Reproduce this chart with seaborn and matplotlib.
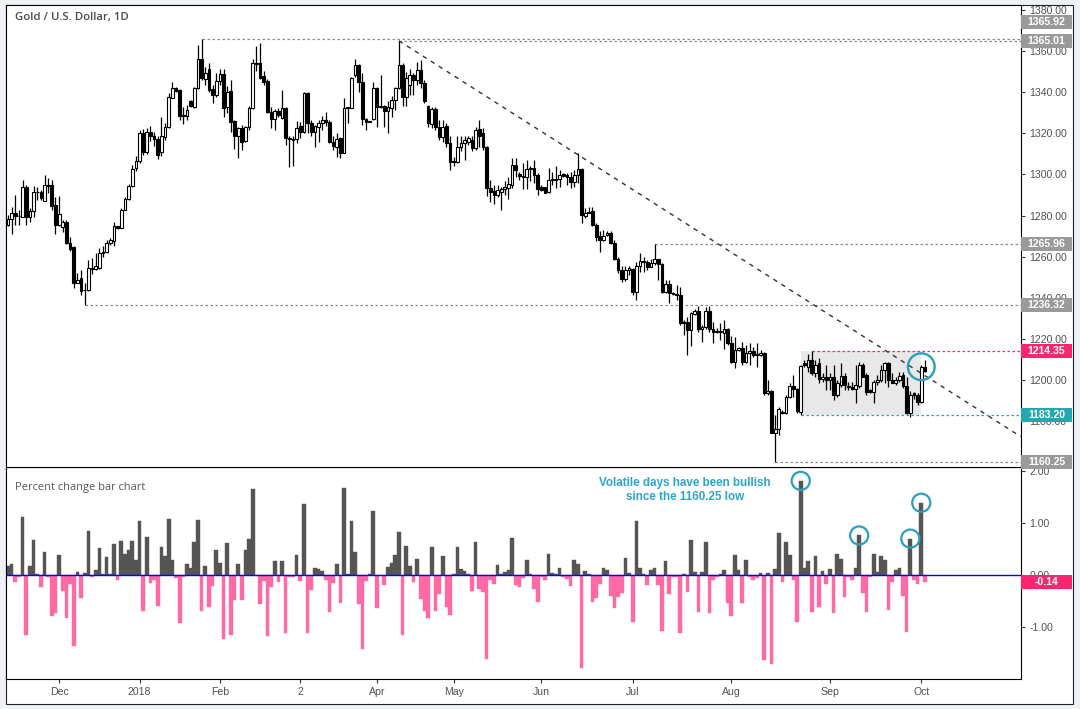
import numpy as np
import pandas as pd
import matplotlib
matplotlib.use("Agg")
import matplotlib.pyplot as plt
import matplotlib.transforms as mtransforms
from matplotlib.patches import Rectangle
import seaborn as sns

# ---------------- data (daily OHLC) ----------------
opens = [
1275.5, 1278.2, 1281.1, 1279.8, 1279.5, 1294.1, 1279.5, 1282.3, 1291.3, 1291.3,
1287.3, 1294.9, 1294.9, 1285.2, 1275.5, 1274.3, 1277.1, 1266.9, 1264.5, 1247.4,
1249.6, 1243.6, 1243.6, 1254.4, 1253.9, 1254.4, 1261.7, 1262.5, 1266.6, 1267.7,
1274.7, 1273.8, 1282.8, 1287.9, 1294.4, 1303.0, 1306.7, 1320.2, 1311.0, 1320.7,
1318.6, 1317.4, 1310.7, 1318.1, 1323.0, 1337.1, 1341.9, 1341.1, 1329.0, 1328.5,
1335.5, 1333.0, 1341.9, 1356.0, 1346.3, 1351.2, 1341.4, 1338.7, 1345.7, 1348.9,
1332.7, 1340.6, 1325.8, 1318.8, 1322.8, 1316.5, 1323.0, 1332.2, 1354.1, 1354.1,
1348.1, 1345.7, 1330.6, 1326.9, 1330.9, 1327.4, 1332.2, 1317.7, 1317.3, 1317.2,
1323.6, 1320.9, 1339.8, 1325.0, 1320.9, 1323.3, 1325.0, 1326.6, 1325.4, 1316.0,
1313.3, 1317.7, 1310.4, 1332.2, 1332.5, 1348.4, 1353.3, 1345.2, 1326.9, 1325.8,
1326.9, 1341.9, 1333.4, 1333.4, 1330.9, 1332.2, 1336.3, 1342.0, 1353.3, 1337.9,
1343.6, 1348.4, 1346.0, 1350.9, 1344.7, 1333.4, 1324.6, 1331.9, 1323.0, 1318.1,
1323.6, 1315.2, 1306.0, 1306.2, 1313.6, 1315.2, 1316.0, 1316.8, 1312.8, 1322.0,
1320.1, 1313.6, 1293.3, 1292.0, 1290.1, 1291.7, 1292.9, 1293.3, 1295.0, 1304.7,
1300.3, 1299.3, 1299.0, 1303.0, 1303.1, 1299.8, 1293.8, 1293.8, 1291.7, 1297.7,
1297.9, 1297.7, 1300.1, 1299.8, 1299.0, 1296.1, 1299.8, 1302.6, 1279.6, 1281.9,
1282.0, 1275.5, 1270.2, 1267.9, 1270.5, 1271.5, 1266.6, 1258.8, 1253.6, 1249.1,
1253.6, 1254.0, 1242.6, 1255.3, 1257.7, 1257.6, 1255.2, 1256.8, 1258.7, 1256.3,
1243.0, 1246.7, 1242.2, 1241.7, 1241.4, 1228.4, 1228.4, 1224.4, 1232.0, 1233.6,
1224.7, 1226.0, 1233.6, 1224.9, 1223.8, 1223.5, 1223.1, 1224.7, 1218.2, 1209.0,
1214.4, 1215.5, 1209.0, 1213.1, 1213.9, 1212.5, 1212.3, 1213.1, 1193.6, 1194.8,
1174.5, 1176.1, 1184.5, 1183.9, 1192.0, 1196.9, 1195.6, 1184.7, 1208.5, 1206.5,
1210.0, 1203.3, 1208.2, 1200.4, 1201.7, 1200.1, 1201.7, 1192.8, 1197.6, 1202.0,
1197.1, 1196.8, 1195.8, 1197.1, 1207.4, 1202.5, 1195.2, 1194.4, 1199.2, 1200.1,
1204.9, 1208.2, 1200.1, 1198.8, 1200.1, 1202.5, 1197.1, 1184.2, 1193.8, 1192.6,
1189.5, 1206.5]

highs = [
1280.3, 1284.1, 1290.1, 1282.8, 1297.3, 1294.9, 1283.6, 1294.4, 1294.1, 1292.5,
1299.8, 1298.1, 1297.3, 1289.2, 1289.6, 1277.9, 1277.9, 1269.8, 1265.0, 1252.3,
1253.6, 1247.1, 1258.5, 1259.3, 1261.7, 1264.1, 1265.0, 1268.2, 1269.0, 1277.1,
1275.0, 1283.6, 1289.2, 1295.4, 1304.5, 1309.0, 1321.5, 1322.0, 1322.5, 1323.5,
1320.5, 1318.5, 1327.9, 1325.0, 1339.8, 1345.2, 1342.4, 1341.4, 1333.0, 1333.9,
1336.3, 1342.7, 1363.0, 1365.92, 1352.5, 1354.1, 1343.6, 1349.2, 1351.2, 1351.2,
1343.1, 1346.0, 1326.3, 1323.3, 1324.1, 1323.6, 1333.4, 1356.0, 1362.5, 1363.8,
1350.1, 1346.3, 1333.0, 1331.7, 1332.2, 1341.1, 1333.0, 1318.8, 1318.5, 1325.8,
1325.3, 1340.3, 1340.3, 1326.3, 1324.1, 1326.6, 1328.5, 1330.6, 1326.6, 1318.5,
1320.1, 1318.1, 1337.1, 1333.0, 1347.6, 1356.0, 1353.8, 1349.2, 1327.4, 1326.0,
1345.2, 1342.7, 1348.4, 1333.9, 1335.5, 1338.2, 1342.7, 1365.01, 1354.1, 1350.0,
1351.2, 1349.5, 1354.9, 1355.7, 1346.0, 1333.9, 1333.0, 1332.7, 1326.6, 1326.6,
1324.9, 1318.8, 1308.5, 1318.5, 1318.5, 1318.8, 1318.8, 1318.5, 1323.3, 1326.6,
1322.5, 1313.9, 1297.4, 1295.0, 1295.0, 1293.8, 1296.6, 1299.0, 1307.9, 1307.9,
1301.4, 1305.5, 1307.1, 1303.9, 1307.1, 1300.6, 1295.0, 1294.1, 1303.1, 1301.4,
1304.2, 1302.2, 1300.9, 1300.6, 1301.4, 1302.2, 1310.3, 1303.1, 1283.6, 1284.4,
1284.4, 1276.3, 1272.3, 1273.1, 1272.3, 1272.3, 1268.2, 1260.1, 1255.3, 1255.3,
1255.3, 1254.4, 1257.2, 1261.7, 1260.1, 1258.4, 1258.7, 1265.96, 1258.9, 1256.8,
1248.7, 1248.7, 1243.0, 1246.3, 1245.5, 1229.3, 1230.9, 1233.3, 1234.4, 1236.1,
1226.8, 1235.7, 1236.1, 1228.4, 1225.2, 1227.6, 1229.3, 1225.2, 1221.2, 1220.8,
1216.3, 1218.7, 1217.1, 1217.9, 1216.3, 1218.2, 1214.7, 1213.5, 1200.1, 1195.2,
1183.1, 1187.1, 1185.5, 1192.8, 1198.5, 1202.5, 1196.0, 1207.4, 1209.8, 1212.5,
1214.35, 1209.8, 1210.6, 1203.3, 1207.4, 1203.3, 1207.4, 1200.1, 1208.5, 1203.3,
1199.2, 1199.2, 1207.4, 1209.0, 1208.2, 1203.3, 1195.5, 1200.1, 1202.5, 1207.4,
1209.0, 1209.0, 1203.3, 1201.7, 1204.1, 1204.1, 1201.7, 1194.5, 1194.0, 1193.5,
1207.4, 1209.8]

lows = [
1275.0, 1271.1, 1275.5, 1275.5, 1279.3, 1275.5, 1277.1, 1279.5, 1287.6, 1287.6,
1287.3, 1291.2, 1282.8, 1271.1, 1274.7, 1272.2, 1266.2, 1262.8, 1244.7, 1247.1,
1241.5, 1236.32, 1243.1, 1251.7, 1253.6, 1253.9, 1260.1, 1262.0, 1265.8, 1265.3,
1273.4, 1273.8, 1282.5, 1287.6, 1294.0, 1301.5, 1305.8, 1309.5, 1310.0, 1316.5,
1314.0, 1307.5, 1309.1, 1316.8, 1322.5, 1337.1, 1340.3, 1326.6, 1324.6, 1326.6,
1332.7, 1332.2, 1341.4, 1346.0, 1343.6, 1340.3, 1335.0, 1337.9, 1343.6, 1327.9,
1329.8, 1320.9, 1312.3, 1307.9, 1312.0, 1316.0, 1321.7, 1332.0, 1350.1, 1346.3,
1343.6, 1329.8, 1322.5, 1321.4, 1327.9, 1326.9, 1314.4, 1303.6, 1303.9, 1315.2,
1317.7, 1320.1, 1320.1, 1318.8, 1313.6, 1316.0, 1321.7, 1323.8, 1315.2, 1312.0,
1308.4, 1307.9, 1310.4, 1325.0, 1332.2, 1347.6, 1340.3, 1324.1, 1321.7, 1325.3,
1326.6, 1323.3, 1332.2, 1323.3, 1320.4, 1327.9, 1331.4, 1341.5, 1333.4, 1333.4,
1338.7, 1338.7, 1343.6, 1342.0, 1335.0, 1323.0, 1322.5, 1321.7, 1316.8, 1316.0,
1313.3, 1302.3, 1303.9, 1305.5, 1311.2, 1307.1, 1314.4, 1311.2, 1312.0, 1313.6,
1312.0, 1289.3, 1286.8, 1285.7, 1289.0, 1282.8, 1290.1, 1288.0, 1293.3, 1299.0,
1297.4, 1292.8, 1292.8, 1296.6, 1295.8, 1290.1, 1292.0, 1291.0, 1290.9, 1295.0,
1293.3, 1293.8, 1299.0, 1295.0, 1293.3, 1294.1, 1295.8, 1276.3, 1278.8, 1281.1,
1274.7, 1267.4, 1262.1, 1267.4, 1270.2, 1266.2, 1258.5, 1252.0, 1247.5, 1248.0,
1251.2, 1241.5, 1239.1, 1252.8, 1252.8, 1253.6, 1255.0, 1256.0, 1248.7, 1242.2,
1242.2, 1237.4, 1241.4, 1239.0, 1226.8, 1222.0, 1212.3, 1216.6, 1231.7, 1223.6,
1218.5, 1224.7, 1223.6, 1218.2, 1222.8, 1219.5, 1215.0, 1217.1, 1208.2, 1205.8,
1213.9, 1207.4, 1208.2, 1207.4, 1211.4, 1206.6, 1211.8, 1192.8, 1192.8, 1174.2,
1160.25, 1173.4, 1183.5, 1183.4, 1191.2, 1192.0, 1184.2, 1183.2, 1206.5, 1204.0,
1202.5, 1201.7, 1198.4, 1199.2, 1195.2, 1195.2, 1190.4, 1192.0, 1196.8, 1195.2,
1195.2, 1195.2, 1188.7, 1196.0, 1201.4, 1192.8, 1193.9, 1188.7, 1197.6, 1199.2,
1198.4, 1196.8, 1198.4, 1197.6, 1199.2, 1196.0, 1183.5, 1181.9, 1191.0, 1188.0,
1189.0, 1203.8]

closes = [
1278.2, 1281.1, 1279.8, 1279.6, 1293.8, 1279.5, 1282.3, 1291.3, 1291.5, 1288.8,
1294.9, 1294.4, 1284.7, 1275.5, 1280.8, 1277.1, 1266.6, 1263.8, 1247.4, 1248.7,
1243.1, 1243.9, 1254.4, 1254.0, 1255.5, 1261.7, 1262.5, 1266.6, 1267.9, 1274.7,
1273.8, 1282.8, 1287.9, 1294.4, 1302.9, 1306.7, 1320.2, 1311.0, 1320.7, 1318.6,
1317.4, 1309.5, 1318.5, 1323.3, 1337.9, 1341.9, 1340.8, 1328.5, 1328.2, 1331.4,
1333.4, 1341.9, 1356.0, 1346.8, 1349.2, 1341.1, 1338.7, 1345.7, 1348.9, 1332.2,
1340.3, 1325.3, 1318.8, 1322.5, 1316.0, 1323.0, 1332.2, 1354.1, 1353.8, 1346.8,
1345.2, 1330.6, 1326.9, 1330.9, 1329.0, 1332.2, 1317.7, 1317.3, 1317.0, 1322.5,
1320.9, 1339.5, 1325.0, 1320.9, 1323.6, 1325.0, 1326.6, 1325.3, 1316.0, 1313.9,
1317.2, 1310.4, 1332.2, 1332.7, 1346.8, 1353.3, 1345.2, 1326.9, 1325.3, 1325.5,
1342.0, 1333.0, 1332.7, 1330.9, 1333.0, 1336.3, 1342.0, 1353.3, 1337.9, 1347.0,
1348.4, 1346.0, 1350.9, 1344.4, 1335.5, 1325.0, 1331.9, 1323.0, 1318.1, 1323.3,
1315.2, 1306.3, 1306.2, 1313.4, 1315.2, 1316.8, 1317.7, 1312.8, 1321.7, 1318.5,
1313.6, 1293.3, 1291.7, 1290.1, 1292.5, 1293.0, 1293.8, 1295.4, 1304.7, 1302.2,
1299.4, 1298.7, 1302.5, 1302.6, 1299.8, 1292.8, 1292.3, 1291.2, 1297.4, 1297.1,
1297.4, 1299.8, 1299.3, 1298.7, 1296.1, 1299.8, 1302.6, 1280.4, 1281.5, 1281.5,
1275.5, 1269.8, 1268.2, 1270.2, 1271.5, 1266.6, 1258.8, 1253.3, 1249.1, 1253.6,
1254.3, 1242.6, 1255.6, 1257.7, 1257.4, 1255.2, 1256.8, 1258.7, 1256.3, 1243.0,
1246.7, 1242.2, 1241.8, 1241.5, 1227.6, 1227.6, 1224.4, 1232.5, 1233.6, 1224.7,
1226.0, 1233.6, 1224.7, 1223.6, 1223.4, 1223.8, 1224.7, 1218.2, 1209.0, 1214.4,
1215.5, 1209.0, 1213.1, 1213.9, 1212.3, 1212.0, 1213.1, 1193.6, 1194.8, 1174.5,
1176.1, 1185.8, 1184.1, 1192.0, 1196.9, 1195.6, 1185.0, 1206.9, 1207.5, 1210.0,
1203.3, 1207.4, 1200.4, 1201.7, 1200.1, 1201.7, 1192.8, 1198.4, 1202.0, 1197.6,
1196.5, 1195.8, 1197.5, 1207.4, 1201.7, 1194.4, 1194.4, 1199.2, 1200.1, 1204.9,
1208.2, 1200.1, 1198.8, 1200.1, 1202.0, 1197.1, 1184.2, 1192.8, 1192.6, 1189.5,
1206.5, 1204.6]

# percent change per bar (lower panel)
pct_change = [
0.18, 0.22, -0.13, -0.03, 1.12, -1.15, 0.18, 0.68, 0.01, -0.24,
0.45, -0.04, -0.78, -0.74, 0.39, -0.30, -0.83, -0.18, -1.37, 0.06,
-0.45, 0.03, 0.85, -0.04, 0.10, 0.51, 0.01, 0.35, 0.02, 0.60,
-0.10, 0.66, 0.41, 0.49, 0.66, 0.29, 1.03, -0.70, 0.74, -0.16,
-0.09, -0.60, 0.54, 0.37, 1.08, 0.29, -0.06, -0.93, -0.04, 0.22,
0.14, 0.64, 1.06, -0.70, 0.18, -0.62, -0.22, 0.49, 0.24, -1.24,
0.62, -1.15, -0.49, 0.22, -0.49, 0.49, 0.70, 1.66, -0.02, -0.56,
-0.11, -1.18, -0.24, 0.26, -0.14, 0.26, -1.12, -0.04, -0.03, 0.39,
-0.12, 1.37, -1.12, -0.28, 0.14, 0.12, 0.08, -0.10, -0.72, -0.16,
0.22, -0.54, 1.68, 0.02, 1.04, 0.45, -0.56, -1.43, -0.12, 0.01,
1.24, -0.64, -0.01, -0.20, 0.16, 0.24, 0.39, 0.83, -1.15, 0.56,
0.18, -0.14, 0.31, -0.47, -0.70, -0.83, 0.53, -0.70, -0.37, 0.37,
-0.62, -0.76, 0.01, 0.53, 0.12, 0.08, 0.02, -0.31, 0.64, -0.26,
-0.33, -1.62, -0.10, -0.18, 0.20, 0.01, 0.06, 0.10, 0.72, -0.20,
-0.24, -0.06, 0.29, 0.01, -0.26, -0.51, -0.04, -0.10, 0.41, 0.03,
0.01, 0.14, -0.03, -0.08, -0.22, 0.29, 0.22, -1.78, 0.08, 0.01,
-0.51, -0.45, -0.18, 0.14, 0.10, -0.41, -0.64, -0.43, -0.35, 0.33,
0.03, -0.91, 1.03, 0.14, 0.01, -0.20, 0.10, 0.14, -0.20, -1.08,
0.26, -0.37, -0.04, -0.04, -1.12, 0.01, -0.33, 0.68, 0.06, -0.72,
0.06, 0.64, -0.74, -0.10, -0.04, 0.01, 0.10, -0.53, -0.78, 0.39,
0.10, -0.53, 0.29, -0.04, -0.10, -0.06, 0.04, -1.64, 0.04, -1.72,
0.12, 0.81, -0.14, 0.64, 0.39, -0.10, -0.91, 1.81, 0.14, 0.26,
-0.72, 0.37, -0.62, 0.08, -0.18, 0.12, -0.74, 0.41, 0.31, -0.43,
-0.03, -0.10, 0.14, 0.76, -0.35, -0.72, -0.04, 0.41, 0.06, 0.37,
0.28, -0.68, -0.14, 0.10, 0.14, -0.41, -1.10, 0.70, -0.10, -0.18,
1.39, -0.14]

month_labels = ["Dec", "2018", "Feb", "2", "Apr", "May", "Jun", "Jul", "Aug", "Sep", "Oct"]
month_bars = [14, 36, 58, 80, 101, 122, 146, 171, 198, 225, 250]

level_values = [1365.92, 1365.01, 1265.96, 1236.32, 1214.35, 1183.20, 1160.25]
level_bars = [53, 107, 177, 21, 220, 217, 210]
level_label_y = [1374.0, 1365.01, 1265.96, 1236.32, 1214.35, 1183.20, 1160.25]
level_kind = ["grey", "grey", "grey", "grey", "pink", "teal", "grey"]

range_box_bars = [217, 250]
range_box_prices = [1183.20, 1214.35]
trend_bars = [107, 156]
trend_prices = [1365.01, 1309.6]
circled_price_bar = 250
circled_pct_bars = [217, 233, 247, 250]
last_pct_label = -0.14

# ---------------- styling ----------------
sns.set_theme(style="white")
plt.rcParams["font.family"] = ["Liberation Sans", "DejaVu Sans"]

GREY_LBL = "#9a9a9a"
PINK = "#f7276f"
TEAL = "#27a6b0"
CIRCLE = "#2a9fbf"
NOTE = "#2ba4cf"
BAR_UP = "#555555"
BAR_DN = "#ff69a4"
TICKC = "#505050"
kind_color = {"grey": GREY_LBL, "pink": PINK, "teal": TEAL}
line_color = {"grey": "#8c8c8c", "pink": PINK, "teal": TEAL}

W, H = 1080, 709
fig = plt.figure(figsize=(W / 100, H / 100), dpi=100, facecolor="#eef1f5")
fx = lambda px: px / W
fy = lambda py: 1 - py / H

fig.add_artist(Rectangle((fx(6), fy(704)), fx(1073) - fx(6), fy(5) - fy(704),
                         transform=fig.transFigure, fc="white", ec="#222222",
                         lw=0.8, zorder=-10))

ax1 = fig.add_axes([fx(6), fy(467), fx(1021) - fx(6), fy(5) - fy(467)])
ax2 = fig.add_axes([fx(6), fy(679), fx(1021) - fx(6), fy(467) - fy(679)], sharex=ax1)
ax1.set_zorder(3)

o = np.array(opens); h = np.array(highs); l = np.array(lows); c = np.array(closes)
h = np.maximum(h, np.maximum(o, c)); l = np.minimum(l, np.minimum(o, c))
n = len(c)
x = np.arange(n)
XMIN, XMAX = -0.55, 277.3

# ---------- price panel ----------
ax1.add_patch(Rectangle((range_box_bars[0], range_box_prices[0]),
                        range_box_bars[1] - range_box_bars[0],
                        range_box_prices[1] - range_box_prices[0],
                        fc="#e8e8e8", ec="none", zorder=1))

for v, b, k in zip(level_values, level_bars, level_kind):
    ax1.hlines(v, b, XMAX, colors=line_color[k], linestyles=(0, (2, 2)), lw=0.9, zorder=2)

slope = (trend_prices[1] - trend_prices[0]) / (trend_bars[1] - trend_bars[0])
tx = np.array([trend_bars[0], XMAX])
ax1.plot(tx, trend_prices[0] + slope * (tx - trend_bars[0]), color="#333333",
         lw=1.0, linestyle=(0, (3.2, 3.6)), zorder=2)

up = c >= o
bottom = np.minimum(o, c)
height = np.maximum(np.abs(c - o), 0.35)
ax1.vlines(x, l, h, color="black", lw=0.9, zorder=3)
ax1.bar(x[up], height[up], bottom=bottom[up], width=0.74, color="white",
        edgecolor="black", linewidth=0.8, zorder=4)
ax1.bar(x[~up], height[~up], bottom=bottom[~up], width=0.74, color="black",
        edgecolor="black", linewidth=0.8, zorder=4)

ax1.scatter([circled_price_bar], [c[circled_price_bar]], s=370, facecolors="none",
            edgecolors=CIRCLE, linewidths=1.7, zorder=6, clip_on=False)

ax1.set_xlim(XMIN, XMAX)
ax1.set_ylim(1157.72, 1382.43)
ax1.yaxis.tick_right()
ax1.set_yticks(np.arange(1160, 1381, 20))
ax1.set_yticklabels([f"{v:.2f}" for v in np.arange(1160, 1381, 20)])
ax1.tick_params(axis="y", which="both", right=True, left=False, length=3, width=0.8,
                color="#333333", labelcolor=TICKC, labelsize=7.6, pad=3)
ax1.tick_params(axis="x", bottom=False, labelbottom=False)
for sp in ax1.spines.values():
    sp.set_color("black"); sp.set_linewidth(0.8)

ax1.text(0.0089, 0.974, "Gold / U.S. Dollar, 1D", transform=ax1.transAxes,
         ha="left", va="center", fontsize=8.2, color="#4a4a4a",
         family=["Open Sans", "DejaVu Sans"], fontweight="semibold")

trans1 = mtransforms.blended_transform_factory(ax1.transAxes, ax1.transData)
bw = 51 / 1015
hh1 = 7 / 2.056
for v, ly, k in zip(level_values, level_label_y, level_kind):
    ax1.add_patch(Rectangle((1.0, ly - hh1), bw, 2 * hh1, transform=trans1,
                            fc=kind_color[k], ec="none", zorder=10, clip_on=False))
    ax1.text(1.0 + bw / 2, ly, f"{v:.2f}", transform=trans1, ha="center", va="center",
             color="white", fontsize=7.6, fontweight="bold", zorder=11, clip_on=False)

# ---------- percent change panel (seaborn bars, full bar width) ----------
pct = np.array(pct_change)
df = pd.DataFrame({"bar": x, "pct": pct, "dir": np.where(pct >= 0, "up", "down")})
sns.barplot(data=df, x="bar", y="pct", hue="dir", palette={"up": BAR_UP, "down": BAR_DN},
            native_scale=True, width=1.0, dodge=False, saturation=1, errorbar=None,
            legend=False, ax=ax2)
for patch in ax2.patches:
    # make neighbouring bars touch as in the reference
    cx = patch.get_x() + patch.get_width() / 2
    patch.set_x(cx - 0.5)
    patch.set_width(1.0)
    patch.set_edgecolor(patch.get_facecolor())
    patch.set_linewidth(0.3)
ax2.axhline(0, color="#0000ff", lw=1.0, zorder=3)
ax2.scatter(circled_pct_bars, pct[circled_pct_bars], s=170, facecolors="none",
            edgecolors=CIRCLE, linewidths=1.6, zorder=6, clip_on=False)

ax2.text(185.3, 1.635, "Volatile days have been bullish\nsince the 1160.25 low",
         ha="center", va="center", fontsize=8.4, fontweight="bold", color=NOTE,
         linespacing=1.25, zorder=7)
ax2.text(0.0089, 0.905, "Percent change bar chart", transform=ax2.transAxes,
         ha="left", va="center", fontsize=7.9, color="#555555",
         family=["Open Sans", "DejaVu Sans"])

ax2.set_xlim(XMIN, XMAX)
ax2.set_ylim(-2.0, 2.077)
ax2.set_xlabel(""); ax2.set_ylabel("")
ax2.yaxis.tick_right()
ax2.set_yticks([-1, 0, 1, 2])
ax2.set_yticklabels([f"{v:.2f}" for v in [-1, 0, 1, 2]])
ax2.tick_params(axis="y", which="both", right=True, left=False, length=3, width=0.8,
                color="#333333", labelcolor=TICKC, labelsize=7.6, pad=3)
ax2.set_xticks(month_bars)
ax2.set_xticklabels(month_labels)
ax2.tick_params(axis="x", bottom=True, length=3, width=0.8, color="#333333",
                labelcolor=TICKC, labelsize=7.6, pad=3)
for sp in ax2.spines.values():
    sp.set_color("black"); sp.set_linewidth(0.8)

trans2 = mtransforms.blended_transform_factory(ax2.transAxes, ax2.transData)
hh2 = 7 / 52
ax2.add_patch(Rectangle((1.0, last_pct_label - hh2), bw, 2 * hh2, transform=trans2,
                        fc=PINK, ec="none", zorder=10, clip_on=False))
ax2.text(1.0 + bw / 2, last_pct_label, f"{last_pct_label:.2f}", transform=trans2,
         ha="center", va="center", color="white", fontsize=7.6, fontweight="bold",
         zorder=11, clip_on=False)

fig.savefig("out.png", dpi=100, facecolor=fig.get_facecolor())
